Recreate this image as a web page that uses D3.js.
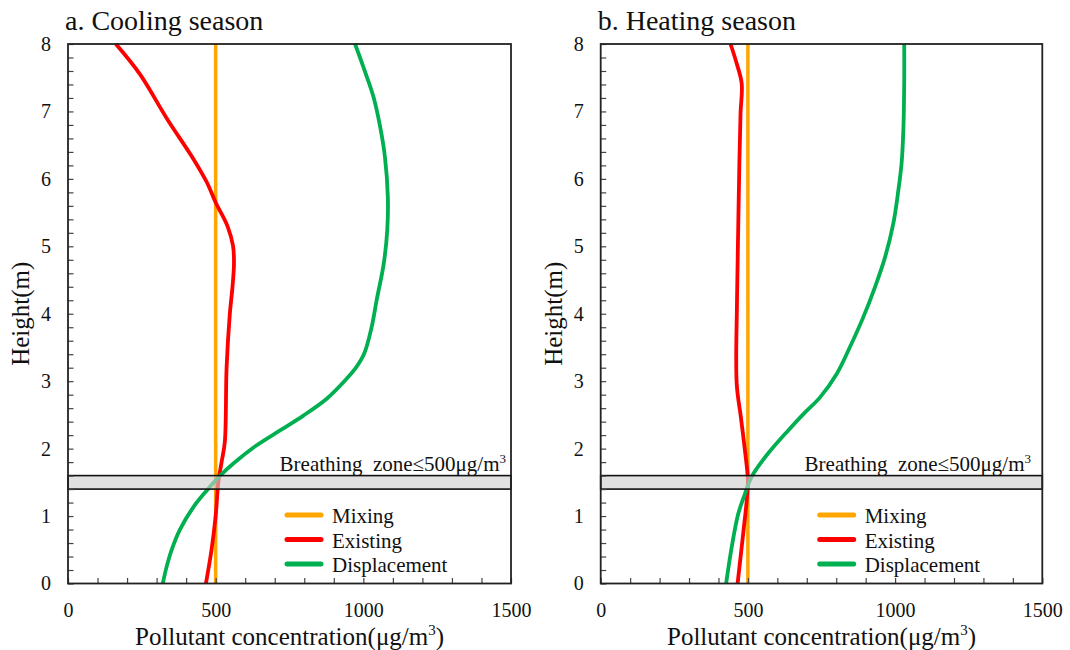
<!DOCTYPE html>
<html><head><meta charset="utf-8">
<script src="https://cdn.jsdelivr.net/npm/d3@7"></script>
<style>
body{margin:0;background:#fff;}
svg, svg text{font-family:"Liberation Serif","Times New Roman",Times,"DejaVu Serif",serif !important;}
</style></head>
<body><svg id="c" width="1070" height="650"></svg>
<script>
// ---- data ----
const panelTitles = ["a. Cooling season", "b. Heating season"];
const seriesNames = ["Mixing", "Existing", "Displacement"];
const xTickLabels = [0, 500, 1000, 1500];
const yTickLabels = [0, 1, 2, 3, 4, 5, 6, 7, 8];
const breathingZone = [1.4, 1.6];
const breathingLabel = "500";

const coolMixingH = [0, 8];
const coolMixingV = [500, 500];
const coolExistingH = [0, 0.5, 1, 1.5, 1.8, 2.1, 3.2, 4.0, 4.4, 4.75, 5.0, 5.3, 5.65, 5.95, 6.3, 6.9, 7.55, 8];
const coolExistingV = [467, 486, 500, 509, 520, 531, 537, 548, 557, 562, 559, 540, 500, 470, 424, 334, 244, 162];
const coolDisplH = [0, 0.25, 0.5, 0.8, 1.13, 1.38, 1.6, 1.78, 2.05, 2.27, 2.49, 2.74, 3.01, 3.2, 3.41, 3.8, 4.2, 4.74, 5.24, 5.73, 6.33, 6.77, 7.22, 7.66, 8];
const coolDisplV = [321, 334, 351, 379, 424, 470, 515, 560, 639, 718, 797, 876, 938, 975, 1003, 1028, 1045, 1069, 1081, 1083, 1073, 1057, 1034, 1000, 972];

const heatMixingH = [0, 8];
const heatMixingV = [500, 500];
const heatExistingH = [0, 0.74, 1.23, 1.53, 1.97, 2.47, 2.96, 4.2, 5.24, 6.23, 6.97, 7.41, 7.71, 8];
const heatExistingV = [465, 484, 496, 500, 490, 476, 462, 463, 467, 471, 475, 479, 462, 441];
const heatDisplH = [0, 0.54, 1.03, 1.33, 1.53, 1.63, 1.92, 2.27, 2.52, 2.76, 3.11, 3.51, 3.95, 4.4, 4.84, 5.34, 5.83, 6.23, 6.72, 7.46, 8];
const heatDisplV = [426, 445, 467, 490, 507, 519, 567, 637, 690, 745, 802, 847, 892, 932, 966, 994, 1011, 1022, 1028, 1031, 1031];

const colors = ["#FFA500", "#FF0000", "#00B050"];

// ---- drawing ----
const FONT = '"Liberation Serif","Times New Roman",Times,"DejaVu Serif",serif';
const svg = d3.select("#c");
const panels = [
  {x0: 68, x1: 511, title: panelTitles[0],
   series: [[coolMixingH, coolMixingV], [coolExistingH, coolExistingV], [coolDisplH, coolDisplV]], labelEnd: 506},
  {x0: 600.7, x1: 1042.3, title: panelTitles[1],
   series: [[heatMixingH, heatMixingV], [heatExistingH, heatExistingV], [heatDisplH, heatDisplV]], labelEnd: 1031}
];
const yTop = 44, yBot = 583.5;

panels.forEach(p => {
  const x = d3.scaleLinear().domain([0, 1500]).range([p.x0, p.x1]);
  const y = d3.scaleLinear().domain([0, 8]).range([yBot, yTop]);
  const g = svg.append("g").attr("font-family", FONT);

  g.append("text").attr("x", p.x0 - 3).attr("y", 30).attr("font-size", 28).attr("fill", "#111").text(p.title);

  const line = d3.line().x(d => x(d[1])).y(d => y(d[0])).curve(d3.curveCatmullRom.alpha(0.5));
  p.series.forEach((s, i) => {
    const pts = s[0].map((h, k) => [h, s[1][k]]);
    g.append("path").datum(pts).attr("d", line).attr("fill", "none")
      .attr("stroke", colors[i]).attr("stroke-width", i === 0 ? 3.5 : 3.8).attr("stroke-linejoin", "round");
  });

  g.append("rect").attr("x", x(0)).attr("width", x(1500) - x(0))
    .attr("y", y(breathingZone[1])).attr("height", y(breathingZone[0]) - y(breathingZone[1]))
    .attr("fill", "#cfcfcf").attr("fill-opacity", 0.62).attr("stroke", "#111").attr("stroke-width", 1.6);
  const bt = g.append("text").attr("x", p.labelEnd).attr("y", 470.5).attr("text-anchor", "end")
    .attr("font-size", 21).attr("fill", "#111").attr("xml:space", "preserve");
  bt.append("tspan").text("Breathing  zone\u2264" + breathingLabel + "\u03bcg/m");
  bt.append("tspan").attr("font-size", 13).attr("dy", -8).text("3");

  const yMinor = d3.range(0, 8.001, 0.2);
  g.append("g").attr("transform", `translate(${p.x0},0)`)
    .call(d3.axisLeft(y).tickValues(yMinor).tickSize(-5.5).tickFormat(""))
    .call(a => a.select(".domain").remove())
    .call(a => a.selectAll("line").attr("stroke", "#444").attr("stroke-width", 1.2));
  g.append("g").attr("transform", `translate(0,${yBot})`)
    .call(d3.axisBottom(x).tickValues(d3.range(0, 1501, 100)).tickSize(-5.5).tickFormat(""))
    .call(a => a.select(".domain").remove())
    .call(a => a.selectAll("line").attr("stroke", "#444").attr("stroke-width", 1.2));

  g.append("g").attr("transform", `translate(${p.x0},0)`)
    .call(d3.axisLeft(y).tickValues(yTickLabels).tickSize(0).tickPadding(17).tickFormat(d3.format("d")))
    .call(a => a.attr("font-family", FONT).select(".domain").remove())
    .call(a => a.selectAll("text").attr("font-size", 20).attr("fill", "#111"));
  g.append("g").attr("transform", `translate(0,${yBot})`)
    .call(d3.axisBottom(x).tickValues(xTickLabels).tickSize(0).tickPadding(19).tickFormat(d3.format("d")))
    .call(a => a.attr("font-family", FONT).select(".domain").remove())
    .call(a => a.selectAll("text").attr("font-size", 20).attr("fill", "#111"));

  g.append("rect").attr("x", p.x0).attr("y", yTop).attr("width", p.x1 - p.x0).attr("height", yBot - yTop)
    .attr("fill", "none").attr("stroke", "#222").attr("stroke-width", 1.8);

  const xt = g.append("text").attr("x", (p.x0 + p.x1) / 2).attr("y", 645).attr("text-anchor", "middle")
    .attr("font-size", 25).attr("fill", "#111");
  xt.append("tspan").text("Pollutant concentration(\u03bcg/m");
  xt.append("tspan").attr("font-size", 15).attr("dy", -10).text("3");
  xt.append("tspan").attr("dy", 10).text(")");
  g.append("text").attr("transform", `translate(${p.x0 - 39},${(yTop + yBot) / 2}) rotate(-90)`)
    .attr("text-anchor", "middle").attr("font-size", 25).attr("fill", "#111").text("Height(m)");

  seriesNames.forEach((n, i) => {
    const ly = 515 + i * 24.5;
    g.append("line").attr("x1", p.x0 + 219).attr("x2", p.x0 + 253).attr("y1", ly).attr("y2", ly)
      .attr("stroke", colors[i]).attr("stroke-width", 5).attr("stroke-linecap", "round");
    g.append("text").attr("x", p.x0 + 264).attr("y", ly + 8).attr("font-size", 21).attr("fill", "#111").text(n);
  });
});
</script></body></html>
